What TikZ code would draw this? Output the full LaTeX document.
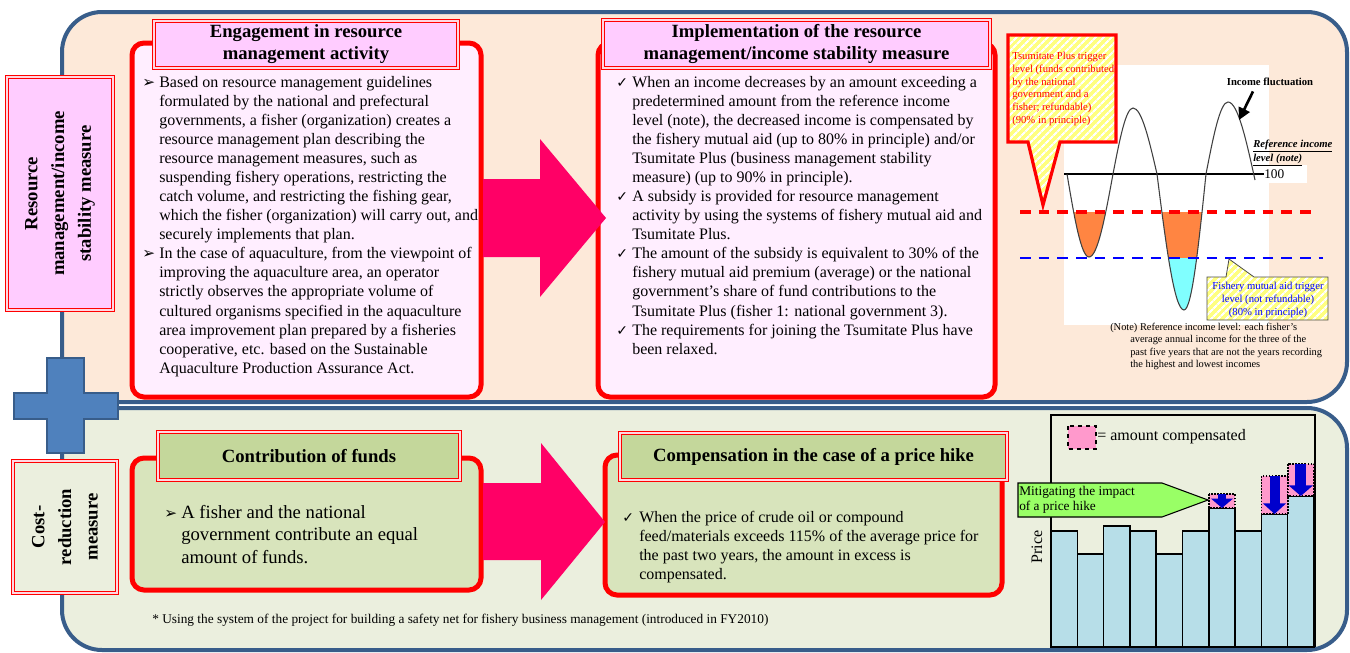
\documentclass[tikz,border=0pt]{standalone}
\usepackage{fontspec}
\setmainfont{Liberation Serif}
\newfontfamily\symfont{DejaVu Sans}
\usetikzlibrary{arrows.meta,patterns.meta}
\definecolor{panelblue}{RGB}{56,93,138}
\definecolor{peach}{RGB}{253,233,217}
\definecolor{sage}{RGB}{235,239,222}
\definecolor{gapcol}{RGB}{255,215,225}
\definecolor{pinktitle}{RGB}{255,204,255}
\definecolor{pinkbody}{RGB}{255,238,255}
\definecolor{greentitle}{RGB}{196,215,155}
\definecolor{greenbody}{RGB}{216,228,188}
\definecolor{arrowpink}{RGB}{255,0,102}
\definecolor{plusblue}{RGB}{79,129,189}
\definecolor{barblue}{RGB}{183,222,232}
\definecolor{comppink}{RGB}{255,153,204}
\definecolor{downblue}{RGB}{0,0,204}
\definecolor{hikegreen}{RGB}{153,255,102}
\definecolor{troughorange}{RGB}{255,133,66}
\definecolor{troughcyan}{RGB}{128,255,255}
\definecolor{stripeyellow}{RGB}{255,255,128}
\newcommand{\arrbul}{{\symfont\fontsize{11.5}{10}\selectfont ➢}}
\newcommand{\chkbul}{{\symfont\fontsize{10.5}{10}\selectfont ✓}}
\begin{document}
\begin{tikzpicture}[x=0.75pt, y=-0.75pt,
  panel/.style = {draw=panelblue, line width=3pt, rounded corners=30pt},
  sidebox/.style = {draw=red, line width=1.1pt, double=gapcol, double distance=1.4pt, rotate=90, inner sep=0pt, align=center, font=\fontsize{14}{20}\selectfont\bfseries},
  mainbox/.style = {draw=red, line width=3.75pt, rounded corners=9pt, inner sep=0pt},
  titlebox/.style = {draw=red, line width=1.1pt, double=gapcol, double distance=1.4pt, inner sep=0pt, align=center, font=\fontsize{14}{16.5}\selectfont\bfseries},
  bodytext/.style = {anchor=north west, inner sep=0pt},
  bigarrow/.style = {fill=arrowpink},
  callout/.style = {preaction={fill=stripeyellow}, pattern={Lines[angle=45,distance=4pt,line width=1.6pt]}, pattern color=white},
  bar/.style = {draw=black, line width=1.1pt, fill=barblue},
  comp/.style = {draw=black, densely dotted, line width=1.3pt, fill=comppink},
  small/.style = {inner sep=0pt, align=left}]
\useasboundingbox (0,0) rectangle (1350,653);

\draw[panel, fill=peach] (62,12) rectangle (1347,402);
\draw[panel, fill=sage] (62,408) rectangle (1347,650);

\draw[fill=plusblue, draw=panelblue, line width=2.2pt] (47,358) -- (84,358) -- (84,393) -- (118,393) -- (118,419) -- (84,419) -- (84,453) -- (47,453) -- (47,419) -- (14,419) -- (14,393) -- (47,393) -- cycle;

\node[sidebox, fill=pinktitle, minimum width=174.75pt, minimum height=79.5pt] (side1) at (60,193.5) {Resource\\management/income\\stability measure};
\node[sidebox, fill=sage, minimum width=99pt, minimum height=78pt] (side2) at (65,527) {Cost-\\reduction\\measure};

\node[mainbox, fill=pinkbody, minimum width=261.75pt, minimum height=265.5pt] (box1) at (306.5,220) {};
\node[mainbox, fill=pinkbody, minimum width=297.75pt, minimum height=265.5pt] (box2) at (796.5,220) {};
\node[mainbox, fill=greenbody, minimum width=261.75pt, minimum height=99pt] (box3) at (306.5,524) {};
\node[mainbox, fill=greenbody, minimum width=297.75pt, minimum height=105pt] (box4) at (803.5,525) {};

\node[titlebox, fill=pinktitle, minimum width=228pt, minimum height=35.25pt] (title1) at (306,44.5) {Engagement in resource\\management activity};
\node[titlebox, fill=pinktitle, minimum width=290.25pt, minimum height=36pt] (title2) at (796.5,44) {Implementation of the resource\\management/income stability measure};
\node[titlebox, fill=greentitle, minimum width=226.5pt, minimum height=36pt] (title3) at (309,456) {Contribution of funds};
\node[titlebox, fill=greentitle, minimum width=290.25pt, minimum height=35.25pt] (title4) at (813.5,456.5) {Compensation in the case of a price hike};

\fill[bigarrow] (483,179) -- (540,179) -- (540,139) -- (606,218) -- (540,297) -- (540,257) -- (483,257) -- cycle;
\fill[bigarrow] (483,483) -- (541,483) -- (541,443) -- (605,522) -- (541,600) -- (541,560) -- (483,560) -- cycle;

\node[bodytext, font=\fontsize{12}{14.3}\selectfont] (text1) at (142,73.6) {%
\begin{tabular}{@{}p{12.75pt}@{}l@{}}
\arrbul & Based on resource management guidelines\\
 & formulated by the national and prefectural\\
 & governments, a fisher (organization) creates a\\
 & resource management plan describing the\\
 & resource management measures, such as\\
 & suspending fishery operations, restricting the\\
 & catch volume, and restricting the fishing gear,\\
 & which the fisher (organization) will carry out, and\\
 & securely implements that plan.\\
\arrbul & In the case of aquaculture, from the viewpoint of\\
 & improving the aquaculture area, an operator\\
 & strictly observes the appropriate volume of\\
 & cultured organisms specified in the aquaculture\\
 & area improvement plan prepared by a fisheries\\
 & cooperative, etc. based on the Sustainable\\
 & Aquaculture Production Assurance Act.
\end{tabular}};
\node[bodytext, font=\fontsize{12}{14.3}\selectfont] (text2) at (616,73.6) {%
\begin{tabular}{@{}p{12pt}@{}l@{}}
\chkbul & When an income decreases by an amount exceeding a\\
 & predetermined amount from the reference income\\
 & level (note), the decreased income is compensated by\\
 & the fishery mutual aid (up to 80\% in principle) and/or\\
 & Tsumitate Plus (business management stability\\
 & measure) (up to 90\% in principle).\\
\chkbul & A subsidy is provided for resource management\\
 & activity by using the systems of fishery mutual aid and\\
 & Tsumitate Plus.\\
\chkbul & The amount of the subsidy is equivalent to 30\% of the\\
 & fishery mutual aid premium (average) or the national\\
 & government's share of fund contributions to the\\
 & Tsumitate Plus (fisher 1: national government 3).\\
\chkbul & The requirements for joining the Tsumitate Plus have\\
 & been relaxed.
\end{tabular}};
\node[bodytext, font=\fontsize{14}{16.9}\selectfont] (text3) at (164,502) {%
\begin{tabular}{@{}p{12.75pt}@{}l@{}}
\arrbul & A fisher and the national\\
 & government contribute an equal\\
 & amount of funds.
\end{tabular}};
\node[bodytext, font=\fontsize{12}{14.25}\selectfont] (text4) at (622,508.7) {%
\begin{tabular}{@{}p{12.75pt}@{}l@{}}
\chkbul & When the price of crude oil or compound\\
 & feed/materials exceeds 115\% of the average price for\\
 & the past two years, the amount in excess is\\
 & compensated.
\end{tabular}};
\node[anchor=base west, inner sep=0pt, font=\fontsize{10}{12}\selectfont] (foot) at (152,623) {* Using the system of the project for building a safety net for fishery business management (introduced in FY2010)};

\fill[white] (1064,65) rectangle (1269,325);
\fill[white] (1263,165) rectangle (1307,183);
\begin{scope}
  \clip (1000,212) rectangle (1300,258);
  \fill[troughorange] (1067,174) sin (1089,257) cos (1113,174) -- cycle;
  \fill[troughorange] (1157,174) sin (1184,310) cos (1206,174) -- cycle;
\end{scope}
\begin{scope}
  \clip (1000,258) rectangle (1300,330);
  \fill[troughcyan] (1157,174) sin (1184,310) cos (1206,174) -- cycle;
\end{scope}
\node[small, anchor=west, font=\fontsize{10}{12}\selectfont] (hundred) at (1264,174) {100};
\draw[line width=1.2pt] (1064,174) -- (hundred.west);
\draw[black!75, line width=0.8pt] (1067,174) sin (1089,257) cos (1113,174) sin (1133,108) cos (1157,174) sin (1184,310) cos (1206,174) sin (1228,102) cos (1255,180);
\draw[red, line width=2.4pt, dash pattern=on 8pt off 6pt] (1020,212) -- (1315,212);
\draw[blue, line width=2pt, dash pattern=on 8pt off 6pt] (1020,258) -- (1323,258);

\draw[callout, draw=red, line width=2.4pt] (1008,35) -- (1116,35) -- (1116,142) -- (1060,142) -- (1043,205) -- (1028,142) -- (1008,142) -- cycle;
\node[small, anchor=west, text=red, font=\fontsize{8}{9.6}\selectfont] (tsumitate) at (1012,89) {Tsumitate Plus trigger\\level (funds contributed\\by the national\\government and a\\fisher; refundable)\\(90\% in principle)};
\draw[callout, draw=black!70, line width=0.6pt] (1207,277) -- (1226,277) -- (1229,259) -- (1254,277) -- (1328,277) -- (1328,320) -- (1207,320) -- cycle;
\node[small, align=center, text=blue, font=\fontsize{8}{9.75}\selectfont] (mutual) at (1268,300) {Fishery mutual aid trigger\\level (not refundable)\\(80\% in principle)};

\node[small, font=\fontsize{8}{9.6}\selectfont\bfseries] (incfl) at (1270,82) {Income fluctuation};
\coordinate (peak) at (1239,120);
\draw[line width=2pt, -{Triangle[length=9pt,width=9pt]}] ([xshift=-12.75pt,yshift=-4pt]incfl.south) -- (peak);
\node[small, anchor=west, font=\fontsize{8}{8.6}\selectfont\bfseries\itshape] (refnote) at (1253,153) {\underline{Reference income}\\\underline{level (note)}};
\node[small, anchor=west, font=\fontsize{7.8}{9.2}\selectfont] (note) at (1110,346.5) {(Note) Reference income level: each fisher's\\\hspace*{15pt}average annual income for the three of the\\\hspace*{15pt}past five years that are not the years recording\\\hspace*{15pt}the highest and lowest incomes};

\draw[black, line width=1.3pt] (1051,647) -- (1051,415) -- (1315,415) -- (1315,647);
\foreach \i/\t in {0/531,1/554,2/526,3/531,4/554,5/531,6/508,7/531,8/514,9/496}
  \draw[bar] (1051+\i*26.3,\t) rectangle (1051+\i*26.3+26.3,647);
\draw[comp] (1208.8,494) rectangle (1235.1,508);
\draw[comp] (1261.4,476) rectangle (1287.7,514);
\draw[comp] (1287.7,464) rectangle (1314,496);
\draw[downblue, line width=6pt, -{Triangle[length=7pt,width=16pt]}] (1222,494) -- (1222,508);
\draw[downblue, line width=7.5pt, -{Triangle[length=8pt,width=17pt]}] (1274.5,476) -- (1274.5,514);
\draw[downblue, line width=8pt, -{Triangle[length=8pt,width=18pt]}] (1300.8,464) -- (1300.8,496);

\draw[black, dashed, line width=1.5pt, fill=comppink] (1068,426) rectangle (1096,449);
\node[small, anchor=west, font=\fontsize{12}{14}\selectfont] (legend) at (1097,437) {= amount compensated};
\node[small, rotate=90, font=\fontsize{12}{14}\selectfont] (price) at (1037,547) {Price};
\draw[fill=hikegreen, draw=black, line width=0.8pt] (1018,483) -- (1162,483) -- (1208,500) -- (1162,517) -- (1018,517) -- cycle;
\node[small, anchor=west, font=\fontsize{10}{11.25}\selectfont] (hike) at (1019,500) {Mitigating the impact\\of a price hike};
\end{tikzpicture}
\end{document}
